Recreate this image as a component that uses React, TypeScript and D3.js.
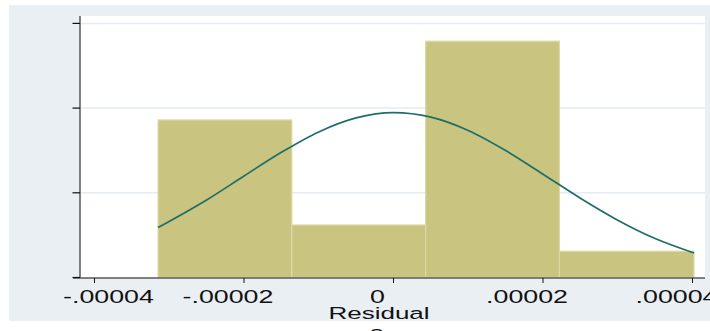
import React from 'react';
import * as d3 from 'd3';

// histogram of residuals (density scale), 4 bins
const binEdges = [-0.0000315, -0.0000136, 0.0000043, 0.0000222, 0.0000402];
const binDensity = [18600, 6200, 27900, 3100];

// normal density overlay
const curveX = [
  -0.0000315, -0.000025, -0.00002, -0.000015, -0.00001, -0.000005, 0,
  0.000005, 0.00001, 0.000015, 0.00002, 0.000025, 0.00003, 0.000035, 0.0000402,
];
const curveY = [
  5890, 9150, 11980, 14780, 17190, 18840, 19460,
  18930, 17360, 14990, 12200, 9360, 6770, 4600, 2900,
];

const xTicks = [-0.00004, -0.00002, 0, 0.00002, 0.00004];
const xTickLabels = ['-.00004', '-.00002', '0', '.00002', '.00004'];
const yTicks = [0, 10000, 20000, 30000];
const xTitle = 'Residual';

const W = 710;
const H = 331;
const plot = { left: 80, right: 705, top: 16, bottom: 278 };
const FONT = '"Liberation Sans", Arial, sans-serif';
const STRETCH = 1.53; // the picture's text is stretched sideways

const App: React.FC = () => {
  const x = d3.scaleLinear().domain([-0.00004, 0.00004]).range([94.5, 692.5]);
  const y = d3.scaleLinear().domain([0, 30000]).range([277.5, 23.4]);

  const bins = binDensity.map((d, i) => ({ x0: binEdges[i], x1: binEdges[i + 1], d }));
  const pts: [number, number][] = curveX.map((v, i) => [v, curveY[i]]);
  const line = d3.line<[number, number]>()
    .x(d => x(d[0]))
    .y(d => y(d[1]))
    .curve(d3.curveMonotoneX);

  return (
    <svg width={W} height={H} style={{ position: 'absolute', left: 0, top: 0, background: '#fff' }}>
      <rect x={9} y={5} width={W - 9} height={316} fill="#eaeff4" />
      <rect x={plot.left} y={plot.top} width={plot.right - plot.left} height={plot.bottom - plot.top} fill="#fff" />

      {/* gridlines */}
      {yTicks.slice(1).map(t => (
        <line key={t} x1={plot.left} x2={plot.right} y1={y(t)} y2={y(t)} stroke="#e4ebf2" strokeWidth={1.5} />
      ))}

      {/* bars */}
      {bins.map((b, i) => (
        <rect
          key={i}
          x={x(b.x0)}
          y={y(b.d)}
          width={x(b.x1) - x(b.x0)}
          height={y(0) - y(b.d)}
          fill="#c9c47f"
          stroke="#dcd9a8"
          strokeWidth={1.2}
        />
      ))}

      <path d={line(pts) || ''} fill="none" stroke="#1f6e68" strokeWidth={1.7} />

      {/* axes */}
      <line x1={plot.left} x2={plot.left} y1={plot.top} y2={plot.bottom} stroke="#595959" strokeWidth={1.5} />
      <line x1={73} x2={plot.right} y1={plot.bottom} y2={plot.bottom} stroke="#595959" strokeWidth={1.5} />
      {yTicks.map(t => (
        <line key={t} x1={72.5} x2={plot.left} y1={y(t)} y2={y(t)} stroke="#111" strokeWidth={1.2} />
      ))}
      {xTicks.map(t => (
        <line key={t} x1={x(t)} x2={x(t)} y1={plot.bottom} y2={plot.bottom + 5} stroke="#111" strokeWidth={1} />
      ))}

      {xTickLabels.map((lab, i) => {
        const cx = i === 0 ? 108.5 - x(xTicks[0]) + x(xTicks[0]) : x(xTicks[i]) - 16;
        return (
          <g key={lab} transform={`translate(${cx},302.5) scale(${STRETCH},1)`}>
            <text textAnchor="middle" fontFamily={FONT} fontSize={17.5} fill="#111">{lab}</text>
          </g>
        );
      })}

      <g transform={`translate(379,319) scale(${STRETCH},1)`}>
        <text textAnchor="middle" fontFamily={FONT} fontSize={17} fill="#111">{xTitle}</text>
      </g>
      <g transform={`translate(377,338) scale(${STRETCH},1)`}>
        <text textAnchor="middle" fontFamily={FONT} fontSize={17} fill="#111">a</text>
      </g>
    </svg>
  );
};

export default App;
